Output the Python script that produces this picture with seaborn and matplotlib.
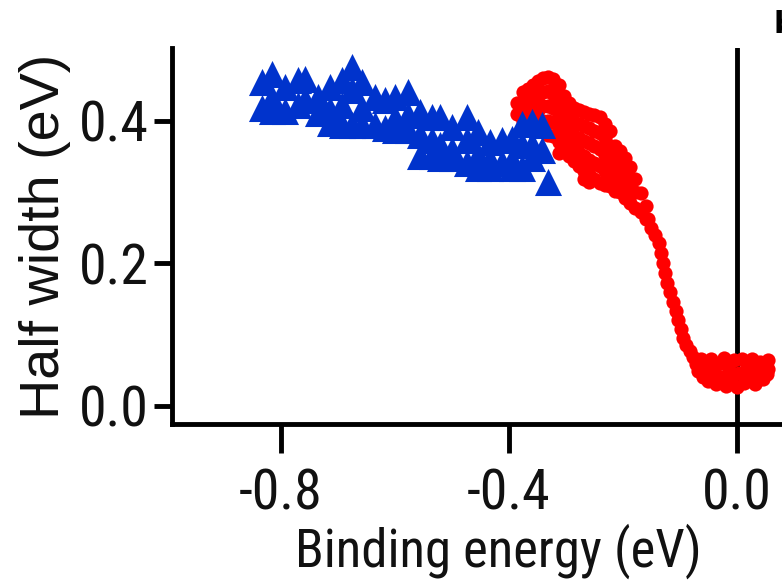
import matplotlib
matplotlib.use("Agg")
import matplotlib.pyplot as plt
from matplotlib import font_manager as fm
import seaborn as sns

# Blue triangles: lower-binding-energy branch
blue_energy = [
    -0.833, -0.833,
    -0.816, -0.816, -0.816,
    -0.793, -0.793,
    -0.770, -0.770,
    -0.758, -0.758,
    -0.735, -0.735,
    -0.714, -0.714, -0.714,
    -0.693, -0.693, -0.693,
    -0.675, -0.675, -0.675,
    -0.658, -0.658, -0.658,
    -0.635, -0.635,
    -0.618, -0.618,
    -0.600, -0.600, -0.600,
    -0.577, -0.577, -0.577,
    -0.556, -0.556, -0.556,
    -0.535, -0.535, -0.535,
    -0.521, -0.521, -0.521,
    -0.500, -0.500, -0.500,
    -0.474, -0.474, -0.474,
    -0.454, -0.454, -0.454,
    -0.433, -0.433, -0.433,
    -0.412, -0.412,
    -0.395, -0.395, -0.395,
    -0.377, -0.377, -0.377,
    -0.360, -0.360, -0.360,
    -0.342, -0.342,
    -0.332,
]
blue_width = [
    0.454, 0.418,
    0.466, 0.432, 0.414,
    0.447, 0.414,
    0.457, 0.422,
    0.459, 0.429,
    0.433, 0.411,
    0.447, 0.415, 0.397,
    0.457, 0.422, 0.394,
    0.475, 0.443, 0.394,
    0.454, 0.418, 0.394,
    0.433, 0.394,
    0.429, 0.390,
    0.433, 0.404, 0.387,
    0.440, 0.408, 0.387,
    0.412, 0.380, 0.350,
    0.405, 0.373, 0.350,
    0.405, 0.366, 0.348,
    0.391, 0.359, 0.348,
    0.405, 0.373, 0.341,
    0.384, 0.352, 0.334,
    0.370, 0.345, 0.334,
    0.373, 0.341,
    0.374, 0.345, 0.334,
    0.395, 0.366, 0.334,
    0.398, 0.366, 0.348,
    0.394, 0.359,
    0.314,
]

# Red circles: near-Fermi-level branch
red_energy = [
    -0.385, -0.385,
    -0.376, -0.376, -0.376,
    -0.367, -0.367, -0.367,
    -0.358, -0.358, -0.358,
    -0.349, -0.349, -0.349, -0.349,
    -0.340, -0.340, -0.340, -0.340,
    -0.331, -0.331, -0.331, -0.331, -0.331,
    -0.322, -0.322, -0.322, -0.322, -0.322,
    -0.313, -0.313, -0.313, -0.313, -0.313, -0.313,
    -0.304, -0.304, -0.304, -0.304, -0.304,
    -0.295, -0.295, -0.295, -0.295, -0.295,
    -0.286, -0.286, -0.286, -0.286, -0.286,
    -0.277, -0.277, -0.277, -0.277, -0.277,
    -0.268, -0.268, -0.268, -0.268, -0.268, -0.268,
    -0.259, -0.259, -0.259, -0.259, -0.259, -0.259,
    -0.250, -0.250, -0.250, -0.250, -0.250,
    -0.241, -0.241, -0.241, -0.241, -0.241,
    -0.232, -0.232, -0.232, -0.232, -0.232,
    -0.223, -0.223, -0.223, -0.223, -0.223,
    -0.214, -0.214, -0.214, -0.214, -0.214,
    -0.205, -0.205, -0.205, -0.205,
    -0.196, -0.196, -0.196, -0.196,
    -0.187, -0.187, -0.187, -0.187,
    -0.178, -0.178, -0.178,
    -0.169, -0.169,
    -0.160, -0.160,
    -0.156, -0.150, -0.143, -0.137, -0.133, -0.130, -0.127, -0.122, -0.117,
    -0.112, -0.107, -0.103, -0.098, -0.094, -0.089, -0.083,
    -0.077, -0.072, -0.068, -0.063, -0.060, -0.055, -0.050, -0.046, -0.042,
    -0.037, -0.033, -0.028, -0.023, -0.019, -0.014, -0.010, -0.005, 0.000,
    0.004, 0.009, 0.013, 0.018, 0.022, 0.027, 0.031, 0.036, 0.040, 0.045,
    0.049, 0.053, 0.055, 0.055,
]
red_width = [
    0.425, 0.410,
    0.440, 0.420, 0.400,
    0.445, 0.425, 0.405,
    0.450, 0.430, 0.410,
    0.455, 0.435, 0.415, 0.395,
    0.460, 0.440, 0.420, 0.400,
    0.462, 0.442, 0.420, 0.400, 0.380,
    0.458, 0.438, 0.418, 0.398, 0.378,
    0.450, 0.430, 0.410, 0.390, 0.370, 0.355,
    0.435, 0.415, 0.395, 0.375, 0.358,
    0.425, 0.405, 0.385, 0.368, 0.350,
    0.418, 0.398, 0.378, 0.360, 0.343,
    0.415, 0.395, 0.375, 0.355, 0.337,
    0.412, 0.392, 0.372, 0.350, 0.330, 0.318,
    0.410, 0.390, 0.368, 0.345, 0.325, 0.314,
    0.408, 0.386, 0.364, 0.340, 0.318,
    0.405, 0.383, 0.360, 0.336, 0.312,
    0.395, 0.375, 0.352, 0.330, 0.310,
    0.385, 0.365, 0.345, 0.325, 0.308,
    0.365, 0.348, 0.330, 0.315, 0.302,
    0.358, 0.340, 0.322, 0.300,
    0.348, 0.330, 0.312, 0.292,
    0.335, 0.318, 0.300, 0.285,
    0.318, 0.300, 0.278,
    0.298, 0.272,
    0.280, 0.262,
    0.262, 0.250, 0.240, 0.228, 0.214, 0.200, 0.186, 0.172, 0.160,
    0.146, 0.133, 0.120, 0.107, 0.095, 0.085, 0.077,
    0.068, 0.058, 0.048, 0.066, 0.040, 0.056, 0.034, 0.066, 0.046,
    0.030, 0.058, 0.040, 0.067, 0.028, 0.050, 0.036, 0.064, 0.026,
    0.046, 0.066, 0.032, 0.054, 0.040, 0.066, 0.030, 0.050, 0.062, 0.038,
    0.056, 0.044, 0.064, 0.052,
]

x_ticks = [-0.8, -0.4, 0.0]
x_tick_labels = ["-0.8", "-0.4", "0.0"]
y_ticks = [0.0, 0.2, 0.4]
y_tick_labels = ["0.0", "0.2", "0.4"]


def find_narrow_font():
    """Return the file of a narrow sans-serif face, if one is installed."""
    wanted = ["Liberation Sans Narrow", "Arial Narrow", "Roboto Condensed",
              "Noto Sans Condensed", "Open Sans Condensed"]
    regular = ("400", "normal", "regular")
    fonts = fm.fontManager.ttflist
    for name in wanted:
        for f in fonts:
            if f.name == name and f.style == "normal" and str(f.weight) in regular:
                return f.fname
    for f in fonts:
        if (f.stretch in ("condensed", "semi-condensed", "extra-condensed")
                and f.style == "normal" and str(f.weight) in regular
                and not any(k in f.name for k in ("Mono", "Serif", "DejaVu", "CJK"))):
            return f.fname
    return None


sns.set_theme(style="ticks")
plt.rcParams["font.family"] = ["Liberation Sans", "DejaVu Sans"]
plt.rcParams["axes.unicode_minus"] = False

narrow_file = find_narrow_font()
if narrow_file:
    narrow = fm.FontProperties(fname=narrow_file)
else:
    narrow = fm.FontProperties(family=["Liberation Sans", "DejaVu Sans"])

W, H = 782, 584
fig = plt.figure(figsize=(W / 100, H / 100), dpi=100)
ax = fig.add_axes([172 / W, 160 / H, 610 / W, 376 / H])

ax.axvline(0.0, color="black", lw=3.5, zorder=1)
sns.scatterplot(x=red_energy, y=red_width, marker="o", s=105, color="#ff0000",
                linewidth=0, ax=ax, zorder=2)
sns.scatterplot(x=blue_energy, y=blue_width, marker="^", s=380, color="#0033cc",
                linewidth=0, ax=ax, zorder=3)

ax.set_xlim(-0.991, 0.079)
ax.set_ylim(-0.0257, 0.502)
ax.set_xticks(x_ticks)
ax.set_xticklabels(x_tick_labels)
ax.set_yticks(y_ticks)
ax.set_yticklabels(y_tick_labels)

sns.despine(ax=ax)
for side in ("left", "bottom"):
    ax.spines[side].set_linewidth(3.5)
    ax.spines[side].set_color("black")

ax.tick_params(axis="x", length=21, width=3.5, pad=10, color="black",
               labelcolor="#111111")
ax.tick_params(axis="y", length=13, width=3.5, pad=3.6, color="black",
               labelcolor="#111111")
for lbl in ax.get_xticklabels() + ax.get_yticklabels():
    lbl.set_fontproperties(narrow)
    lbl.set_fontsize(40)

xlab = ax.set_xlabel("Binding energy (eV)", color="#111111")
xlab.set_fontproperties(narrow)
xlab.set_fontsize(40)
ylab = ax.set_ylabel("Half width (eV)", fontsize=40, color="#111111",
                     family=["Liberation Sans", "DejaVu Sans"])
ax.xaxis.set_label_coords(0.535, -0.26)
ax.yaxis.set_label_coords(-0.17, 0.5)

# Scale the texts to the widths they take on the page
fig.canvas.draw()
renderer = fig.canvas.get_renderer()
tick_ref = ax.get_xticklabels()[0]
tick_scale = 84.0 / tick_ref.get_window_extent(renderer).width
for lbl in ax.get_xticklabels() + ax.get_yticklabels():
    lbl.set_fontsize(40 * tick_scale)
xlab.set_fontsize(40 * 407.0 / xlab.get_window_extent(renderer).width)
ylab.set_fontsize(40 * 365.0 / ylab.get_window_extent(renderer).height)

# Centre the axis titles on their spots (pixels from the top-left corner)
fig.canvas.draw()
ax_bb = ax.get_window_extent(renderer)


def centre_label(axis, label, cx, cy):
    bb = label.get_window_extent(renderer)
    dx = cx - (bb.x0 + bb.x1) / 2
    dy = (H - cy) - (bb.y0 + bb.y1) / 2
    px, py = label.get_position()
    axis.set_label_coords(px + dx / ax_bb.width, py + dy / ax_bb.height)


centre_label(ax.xaxis, xlab, 498.5, 551)
centre_label(ax.yaxis, ylab, 45, 236)

fig.text(774 / W, 1 - 10 / H, "b", ha="left", va="top", fontsize=22,
         fontweight="bold", color="black", family="DejaVu Sans")

fig.savefig("out.png", dpi=100)
